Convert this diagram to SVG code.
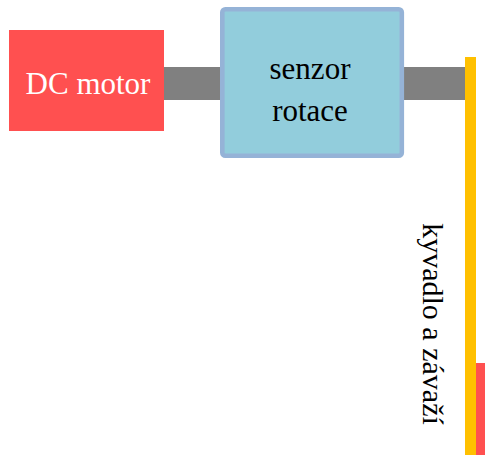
<svg xmlns="http://www.w3.org/2000/svg" width="485" height="455" viewBox="0 0 485 455">
  <style>
    .label { font-family: "Liberation Serif", "DejaVu Serif", serif; font-size: 31px; }
    .shaft { fill: #808080; }
  </style>
  <rect width="485" height="455" fill="#ffffff"/>

  <!-- shafts joining the parts -->
  <g id="connectors">
    <rect class="shaft" x="163" y="67" width="60" height="33"/>
    <rect class="shaft" x="402" y="67" width="64" height="33"/>
  </g>

  <g id="dc-motor">
    <rect x="9" y="30" width="155" height="101" fill="#ff5050"/>
    <text class="label" x="88" y="94" text-anchor="middle" fill="#ffffff">DC motor</text>
  </g>

  <g id="senzor-rotace">
    <rect x="222.3" y="9.3" width="179.5" height="146.4" rx="3" fill="#92cddc" stroke="#95b3d7" stroke-width="4.6"/>
    <text class="label" x="310" y="79" text-anchor="middle" fill="#000000">senzor</text>
    <text class="label" x="310" y="120.5" text-anchor="middle" fill="#000000">rotace</text>
  </g>

  <g id="kyvadlo">
    <rect x="465" y="57" width="11" height="398" fill="#ffc000"/>
    <rect x="476" y="363" width="9" height="92" fill="#ff5050"/>
    <text class="label" transform="translate(423,324) rotate(90)" text-anchor="middle" fill="#000000" style="font-size:30px">kyvadlo a závaží</text>
  </g>
</svg>
